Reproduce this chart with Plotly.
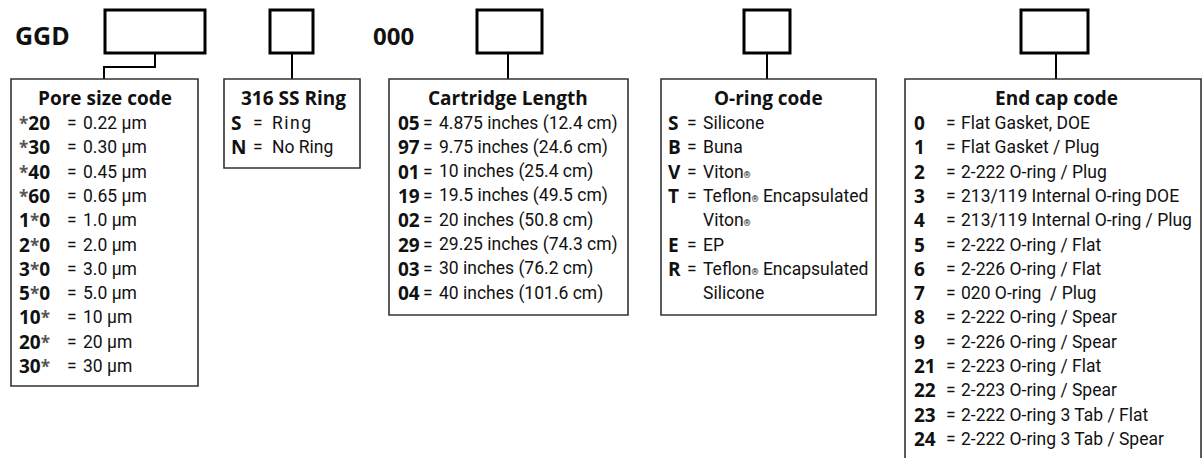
import plotly.graph_objects as go

# ---------------- data ----------------
prefix_label = "GGD"
middle_label = "000"

pore_title = "Pore size code"
pore_codes = ["*20", "*30", "*40", "*60", "1*0", "2*0", "3*0", "5*0", "10*", "20*", "30*"]
pore_desc = ["0.22 μm", "0.30 μm", "0.45 μm", "0.65 μm", "1.0 μm", "2.0 μm",
             "3.0 μm", "5.0 μm", "10 μm", "20 μm", "30 μm"]

ring_title = "316 SS Ring"
ring_codes = ["S", "N"]
ring_desc = ["Ring", "No Ring"]

length_title = "Cartridge Length"
length_codes = ["05", "97", "01", "19", "02", "29", "03", "04"]
length_desc = ["4.875 inches (12.4 cm)", "9.75 inches (24.6 cm)", "10 inches (25.4 cm)",
               "19.5 inches (49.5 cm)", "20 inches (50.8 cm)", "29.25 inches (74.3 cm)",
               "30 inches (76.2 cm)", "40 inches (101.6 cm)"]

oring_title = "O-ring code"
oring_codes = ["S", "B", "V", "T", "", "E", "R", ""]
oring_desc = ["Silicone", "Buna", "Viton®", "Teflon® Encapsulated", "Viton®", "EP",
              "Teflon® Encapsulated", "Silicone"]

endcap_title = "End cap code"
endcap_codes = ["0", "1", "2", "3", "4", "5", "6", "7", "8", "9", "21", "22", "23", "24"]
endcap_desc = ["Flat Gasket, DOE", "Flat Gasket / Plug", "2-222 O-ring / Plug",
               "213/119 Internal O-ring DOE", "213/119 Internal O-ring / Plug",
               "2-222 O-ring / Flat", "2-226 O-ring / Flat", "020 O-ring  / Plug",
               "2-222 O-ring / Spear", "2-226 O-ring / Spear", "2-223 O-ring / Flat",
               "2-223 O-ring / Spear", "2-222 O-ring 3 Tab / Flat",
               "2-222 O-ring 3 Tab / Spear"]

# ---------------- layout geometry ----------------
W, H = 1203, 458
BODY_FONT = "Roboto"
BOLD_FONT = "Open Sans"
ROW0, ROWSTEP, TITLE_Y = 123, 24.3, 98

fig = go.Figure()

def rect(x0, y0, x1, y1, width, color):
    fig.add_shape(type="rect", x0=x0, y0=y0, x1=x1, y1=y1,
                  line=dict(color=color, width=width), fillcolor="rgba(0,0,0,0)",
                  xref="x", yref="y")

def line_path(path, width=2):
    fig.add_shape(type="path", path=path, line=dict(color="black", width=width),
                  xref="x", yref="y")

def text(x, y, s, size, bold=False, anchor="left", family=None):
    fig.add_annotation(x=x, y=y, text=s, showarrow=False, xanchor=anchor, yanchor="middle",
                       xref="x", yref="y",
                       font=dict(family=family or (BOLD_FONT if bold else BODY_FONT),
                                 size=size, color="#111111",
                                 weight=700 if bold else 400))

def fmt_code(c):
    # asterisk is a lighter, smaller glyph between bold digits
    parts = c.split("*")
    star = "<span style='color:#555;font-size:17px'><b>*</b></span>"
    return star.join("<b>" + p + "</b>" if p else "" for p in parts)

def fmt_desc(d):
    d = d.replace("®", "<span style='font-size:9px'>®</span>")
    if d == "Ring":
        d = "<span style='letter-spacing:1.5px'>Ring</span>"
    return d

# small code boxes
small_boxes = [(105, 205, 155), (270, 313, 292), (477, 542, 508), (744, 790, 767), (1021, 1088, 1056)]
for x0, x1, _ in small_boxes:
    rect(x0, 10, x1, 53, 3, "black")

# connectors
line_path("M 155 53 L 155 67 L 104 67 L 104 79")
for _, _, cx in small_boxes[1:]:
    line_path(f"M {cx} 53 L {cx} 79")

# big text
text(13, 35, prefix_label, 25, bold=True)
text(371, 35, middle_label, 24, bold=True)

# description boxes
groups = [
    dict(box=(11, 79, 198, 386), title=pore_title, tx=104.5, codes=pore_codes, desc=pore_desc,
         cx=17, ex=65, dx=81),
    dict(box=(224, 79, 360, 168), title=ring_title, tx=293.5, codes=ring_codes, desc=ring_desc,
         cx=229, ex=251, dx=270),
    dict(box=(389, 79, 628, 315), title=length_title, tx=508, codes=length_codes, desc=length_desc,
         cx=396, ex=421, dx=437),
    dict(box=(661, 79, 876, 315), title=oring_title, tx=768, codes=oring_codes, desc=oring_desc,
         cx=666, ex=685, dx=701),
    dict(box=(905, 79, 1201, 470), title=endcap_title, tx=1056, codes=endcap_codes, desc=endcap_desc,
         cx=912, ex=944, dx=959),
]

for g in groups:
    x0, y0, x1, y1 = g["box"]
    rect(x0, y0, x1, y1, 1.6, "#333333")
    text(g["tx"], TITLE_Y, "<b>" + g["title"] + "</b>", 19, anchor="center", family=BOLD_FONT)
    for i, (c, d) in enumerate(zip(g["codes"], g["desc"])):
        y = ROW0 + i * ROWSTEP
        if c:
            text(g["cx"], y, fmt_code(c), 19, family=BOLD_FONT)
            text(g["ex"], y, "=", 17.5)
        text(g["dx"], y, fmt_desc(d), 17.5)

fig.update_xaxes(range=[0, W], visible=False, fixedrange=True)
fig.update_yaxes(range=[H, 0], visible=False, fixedrange=True)
fig.update_layout(width=W, height=H, margin=dict(l=0, r=0, t=0, b=0),
                  paper_bgcolor="white", plot_bgcolor="white", showlegend=False)

fig.write_html("out.html", config={"displayModeBar": False},
               post_script="document.body.style.margin='0';document.body.style.overflow='hidden';")
